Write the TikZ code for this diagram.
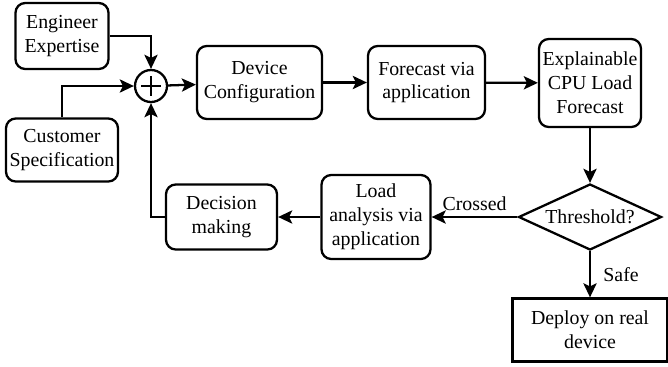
\documentclass[tikz,border=0pt]{standalone}
\usepackage{fontspec}
\setmainfont{Liberation Serif}
\usetikzlibrary{arrows.meta}
\usetikzlibrary{shapes.geometric, calc}

\begin{document}
\begin{tikzpicture}[x=0.02cm, y=-0.02cm, line width=1.3pt,
                    >={Stealth[length=8pt, width=7.5pt, inset=1.8pt]}]
               \tikzstyle{myBox}=[draw, rounded corners=5.5pt, align=center, inner sep=1pt,
                                  font=\fontsize{11.3}{13.6}\selectfont]
               \tikzstyle{myDia}=[draw, diamond, aspect=2.2, inner sep=0pt,
                                  font=\fontsize{11.3}{13.6}\selectfont]
               \tikzstyle{myLbl}=[font=\fontsize{11.3}{13.6}\selectfont, inner sep=3pt]

               \useasboundingbox (0,0) rectangle (668,366);

               % inputs and summing point
               \node[myBox, minimum width=1.86cm, minimum height=1.32cm] (eng) at (62,36) {Engineer\\Expertise};
               \node[myBox, minimum width=2.24cm, minimum height=1.26cm] (cust) at (62,150) {Customer\\Specification};
               \node[draw, circle, minimum size=0.64cm, inner sep=0pt] (sum) at (151,86) {};
               \draw[line width=1pt] ($(sum.north)!0.22!(sum.south)$) -- ($(sum.south)!0.22!(sum.north)$);
               \draw[line width=1pt] ($(sum.west)!0.22!(sum.east)$) -- ($(sum.east)!0.22!(sum.west)$);

               % top row
               \node[myBox, minimum width=2.5cm, minimum height=1.46cm] (dev) at (259.5,82.5) {Device\\Configuration};
               \node[myBox, minimum width=2.34cm, minimum height=1.46cm] (fc) at (426.5,82.5) {Forecast via\\application};
               \node[myBox, minimum width=2.04cm, minimum height=1.76cm] (xcpu) at (590,83) {Explainable\\CPU Load\\Forecast};

               % decision and bottom row
               \node[myDia, minimum width=2.86cm, minimum height=1.32cm] (thr) at (590,217) {Threshold?};
               \node[draw, align=center, minimum width=3.1cm, minimum height=1.26cm,
                     font=\fontsize{11.3}{13.6}\selectfont] (dep) at (590,330) {Deploy on real\\device};
               \node[myBox, minimum width=2.18cm, minimum height=1.68cm] (load) at (376,217) {Load\\analysis via\\application};
               \node[myBox, minimum width=2.22cm, minimum height=1.3cm] (dec) at (221.5,217) {Decision\\making};

               \draw[->] (eng) -| (sum);
               \draw[->] (cust) |- (sum);
               \draw[->] (sum) -- (dev);
               \draw[->] (dev) -- (fc);
               \draw[->] (fc) -- (xcpu);
               \draw[->] (xcpu) -- (thr);
               \draw[->] (thr) -- node[myLbl, above] {Crossed} (load);
               \draw[->] (thr) -- node[myLbl, right, xshift=4pt] {Safe} (dep);
               \draw[->] (load) -- (dec);
               \draw[->] (dec) -| (sum);
            \end{tikzpicture}
\end{document}
